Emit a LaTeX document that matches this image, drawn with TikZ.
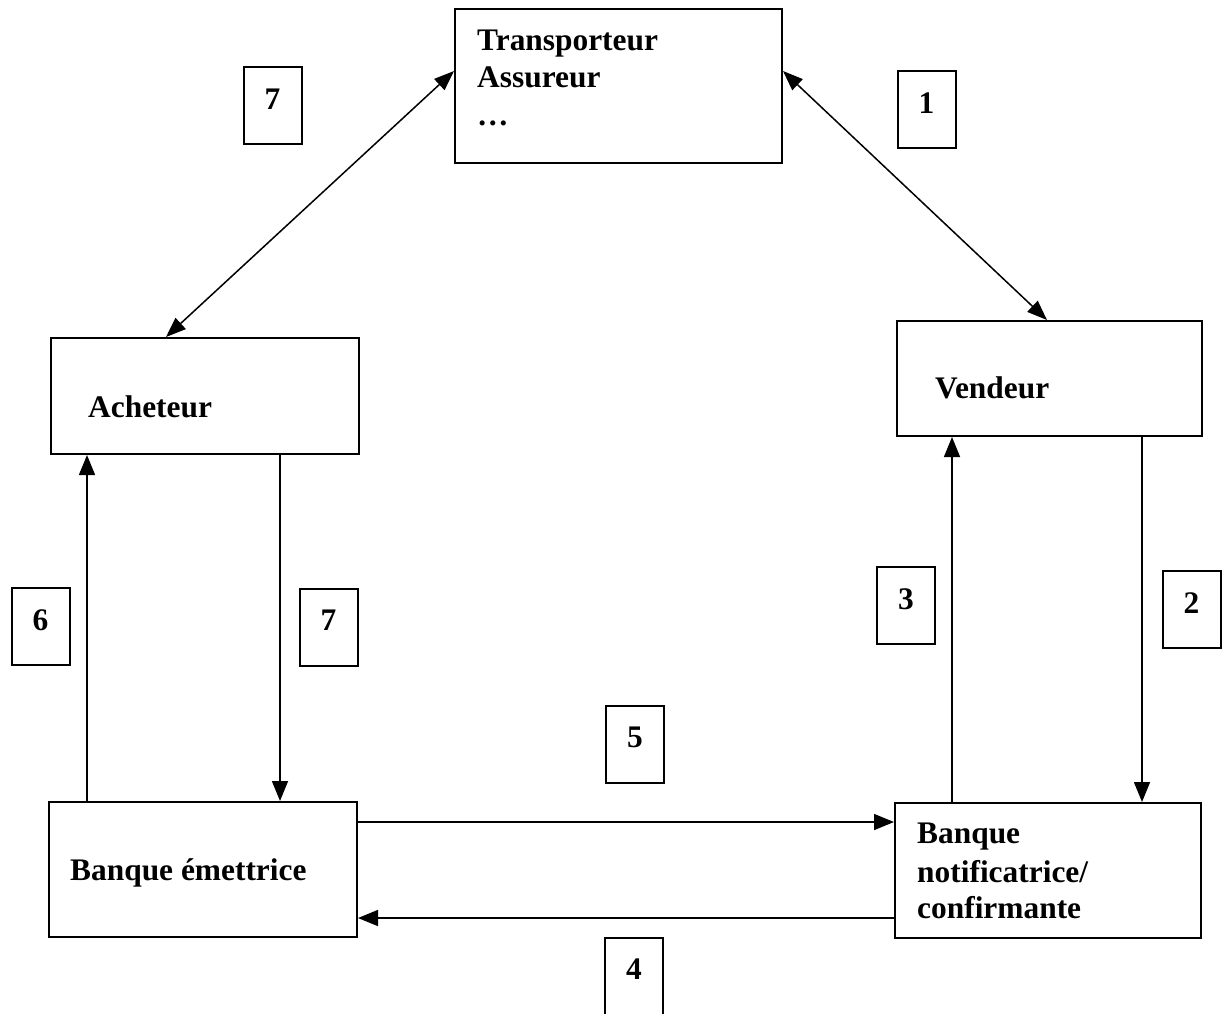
\documentclass[tikz,border=0pt]{standalone}
\usepackage{fontspec}
\setmainfont{Liberation Serif}
\usetikzlibrary{arrows.meta}

\begin{document}
\begin{tikzpicture}[x=1pt,y=-1pt,
  every node/.style={font=\bfseries\fontsize{31.4pt}{37.5pt}\selectfont},
  party/.style={draw=black, line width=2pt, inner sep=0pt, fill=white},
  numbox/.style={draw=black, line width=2pt, inner sep=0pt,
    minimum width=58pt, minimum height=77pt, text height=21pt, text depth=14pt},
  txt/.style={anchor=base west, inner sep=0pt},
  arr/.style={line width=1.5pt, -{Triangle[length=20pt,width=16pt]}},
  dblarr/.style={line width=1.5pt, {Triangle[length=20pt,width=15pt]}-{Triangle[length=20pt,width=15pt]}}
]
\clip (0,0) rectangle (1228,1013);
\fill[white] (0,0) rectangle (1228,1013);

% parties
\node[party, minimum width=327pt, minimum height=154pt] (trans)  at (618.5,86) {};
\node[party, minimum width=308pt, minimum height=116pt] (ach)    at (205,396) {};
\node[party, minimum width=305pt, minimum height=115pt] (vend)   at (1049.5,378.5) {};
\node[party, minimum width=308pt, minimum height=135pt] (bemet)  at (203,869.5) {};
\node[party, minimum width=306pt, minimum height=135pt] (bnotif) at (1048,870.5) {};

% texts inside the boxes
\node[txt] (t1) at (477,50)  {Transporteur};
\node[txt] (t2) at (477,87)  {Assureur};
\node[txt] (t3) at (477,125) {…};
\node[txt] (ta) at (88,417)  {Acheteur};
\node[txt] (tv) at (935,398) {Vendeur};
\node[txt] (te) at (70,880)  {Banque émettrice};
\node[txt] (n1t) at (917,843) {Banque};
\node[txt] (n2t) at (917,882) {notificatrice/};
\node[txt] (n3t) at (917,918) {confirmante};

% step numbers
\node[numbox] (s7a) at (272.5,105.5) {7};
\node[numbox] (s1)  at (926.5,109.5) {1};
\node[numbox] (s6)  at (40.5,626.5)  {6};
\node[numbox] (s7b) at (328.5,627)   {7};
\node[numbox] (s3)  at (906,605.5)   {3};
\node[numbox] (s2)  at (1191.5,609.5){2};
\node[numbox] (s5)  at (635,744)     {5};
\node[numbox] (s4)  at (634,976)     {4};

% exchanges with the carrier / insurer
\draw[dblarr] ([yshift=-63pt]trans.north west) -- ([xshift=116pt]ach.north west);
\draw[dblarr] ([yshift=-63pt]trans.north east) -- ([xshift=151pt]vend.north west);

% buyer side
\draw[arr] ([xshift=39pt]bemet.north west) -- ([xshift=37pt]ach.south west);
\draw[arr] ([xshift=230pt]ach.south west) -- ([xshift=232pt]bemet.north west);

% seller side
\draw[arr] ([xshift=58pt]bnotif.north west) -- ([xshift=56pt]vend.south west);
\draw[arr] ([xshift=246pt]vend.south west) -- ([xshift=248pt]bnotif.north west);

% between the banks
\draw[arr] ([yshift=-21pt]bemet.north east) -- ([yshift=-20pt]bnotif.north west);
\draw[arr] ([yshift=-116pt]bnotif.north west) -- ([yshift=-117pt]bemet.north east);
\end{tikzpicture}
\end{document}
